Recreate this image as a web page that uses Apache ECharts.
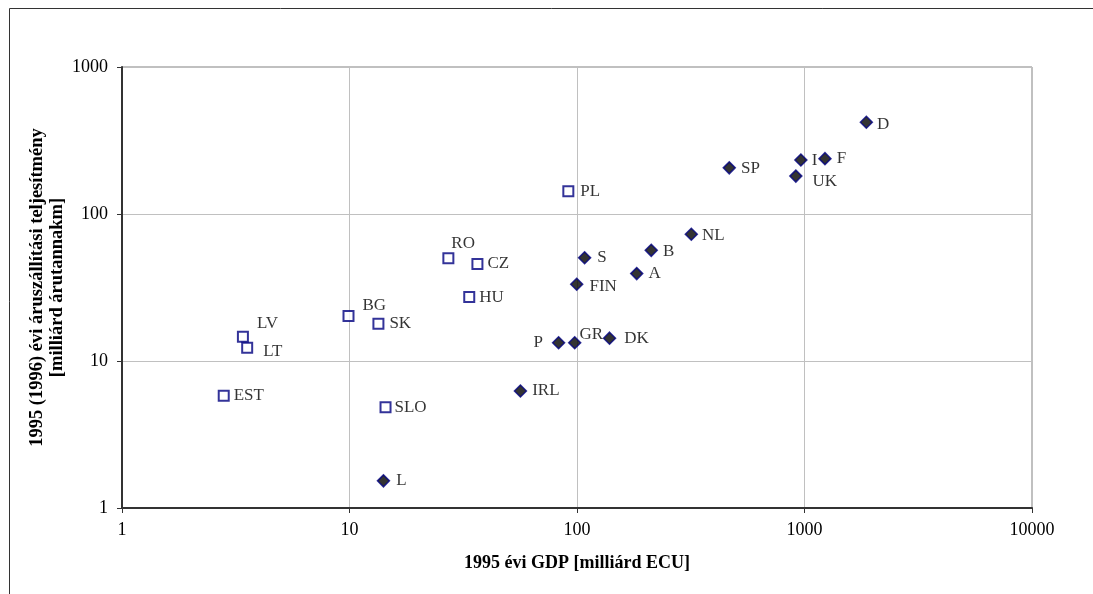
<!DOCTYPE html>
<html>
<head>
<meta charset="utf-8">
<script src="https://cdn.jsdelivr.net/npm/echarts@6/dist/echarts.min.js"></script>
<style>
  html, body { margin: 0; padding: 0; background: #fff; }
  #chart { width: 1093px; height: 594px; }
</style>
</head>
<body>
<div id="chart"></div>
<script>
// candidate countries (open squares)
const candNames = ['EST', 'LV', 'LT', 'BG', 'SK', 'SLO', 'RO', 'CZ', 'HU', 'PL'];
const candGdp = [2.8, 3.4, 3.55, 9.9, 13.4, 14.4, 27.2, 36.5, 33.6, 91.6];
const candFreight = [5.8, 14.6, 12.3, 20.2, 17.9, 4.85, 50, 45.7, 27.2, 143];

// EU member states (filled diamonds)
const euNames = ['L', 'IRL', 'P', 'GR', 'DK', 'FIN', 'S', 'A', 'B', 'NL', 'SP', 'UK', 'I', 'F', 'D'];
const euGdp = [14.1, 56.4, 83, 97.7, 139, 99.7, 108, 183, 212, 318, 467, 916, 964, 1230, 1870];
const euFreight = [1.53, 6.25, 13.3, 13.3, 14.3, 33.3, 50.4, 39.3, 56.6, 72.8, 206, 181, 233, 238, 421];

const xTitle = '1995 évi GDP [milliárd ECU]';
const yTitle = '1995 (1996) évi áruszállítási teljesítmény\n[milliárd árutannakm]';

// label placement tweaks (style only)
const labelTweak = {
  EST: { offset: [-1, 0] },
  LV: { offset: [3, -13] },
  LT: { offset: [5, 4] },
  BG: { offset: [3, -11] },
  RO: { offset: [-8, -15] },
  CZ: { offset: [-1, 0] },
  HU: { offset: [-1, 0] },
  SLO: { offset: [-2, 0] },
  PL: { offset: [1, 0] },
  L: { offset: [1, 0] },
  P: { position: 'left', offset: [-4, 0] },
  GR: { offset: [-7, -8] },
  DK: { offset: [3, 0] },
  FIN: { offset: [1, 2] },
  S: { offset: [1, 0] },
  B: { offset: [0, 1] },
  NL: { offset: [-1, 1] },
  SP: { offset: [0, 1] },
  UK: { offset: [5, 5] },
  I: { offset: [-1, 1] },
  D: { offset: [-1, 2] }
};

const font = '"Liberation Serif", "Times New Roman", serif';

const toPoints = (names, xs, ys) => names.map((n, i) => ({
  name: n,
  value: [xs[i], ys[i]],
  label: Object.assign({ show: true }, labelTweak[n] || {})
}));

const plainNum = v => String(Math.round(v));

const chart = echarts.init(document.getElementById('chart'));

chart.setOption({
  animation: false,
  backgroundColor: '#fff',
  textStyle: { fontFamily: font },
  grid: {
    left: 122, right: 61, top: 67, bottom: 86,
    show: true, borderColor: '#808080', borderWidth: 1
  },
  graphic: [
    { type: 'line', shape: { x1: 9.5, y1: 8.5, x2: 1093, y2: 8.5 }, style: { stroke: '#333', lineWidth: 1 } },
    { type: 'line', shape: { x1: 9.5, y1: 8.5, x2: 9.5, y2: 594 }, style: { stroke: '#333', lineWidth: 1 } }
  ],
  xAxis: {
    type: 'log', logBase: 10, min: 1, max: 10000,
    name: xTitle, nameLocation: 'middle', nameGap: 46, nameMoveOverlap: false,
    nameTextStyle: { fontFamily: font, fontWeight: 'bold', fontSize: 18, color: '#000' },
    axisLine: { lineStyle: { color: '#333', width: 2 } },
    axisTick: { length: 5, lineStyle: { color: '#333' } },
    axisLabel: { fontFamily: font, fontSize: 18, color: '#000', margin: 13, formatter: plainNum },
    splitLine: { show: true, lineStyle: { color: '#c0c0c0', width: 1 } }
  },
  yAxis: {
    type: 'log', logBase: 10, min: 1, max: 1000,
    name: yTitle, nameLocation: 'middle', nameGap: 55, nameRotate: 90, nameMoveOverlap: false,
    nameTextStyle: { fontFamily: font, fontWeight: 'bold', fontSize: 18.5, color: '#000', lineHeight: 20 },
    axisLine: { lineStyle: { color: '#333', width: 2 } },
    axisTick: { length: 5, lineStyle: { color: '#333' } },
    axisLabel: { fontFamily: font, fontSize: 18, color: '#000', margin: 14, formatter: plainNum },
    splitLine: { show: true, lineStyle: { color: '#c0c0c0', width: 1 } }
  },
  series: [
    {
      name: 'candidates',
      type: 'scatter',
      symbol: 'rect',
      symbolSize: 10,
      itemStyle: { color: '#fff', borderColor: '#000080', borderWidth: 2 },
      label: {
        position: 'right', distance: 5, formatter: '{b}',
        fontFamily: font, fontSize: 17, color: '#000'
      },
      data: toPoints(candNames, candGdp, candFreight)
    },
    {
      name: 'eu',
      type: 'scatter',
      symbol: 'diamond',
      symbolSize: [12, 12],
      itemStyle: { color: '#000000', borderColor: '#000080', borderWidth: 1.5 },
      label: {
        position: 'right', distance: 5, formatter: '{b}',
        fontFamily: font, fontSize: 17, color: '#000'
      },
      data: toPoints(euNames, euGdp, euFreight)
    }
  ]
});
</script>
</body>
</html>
